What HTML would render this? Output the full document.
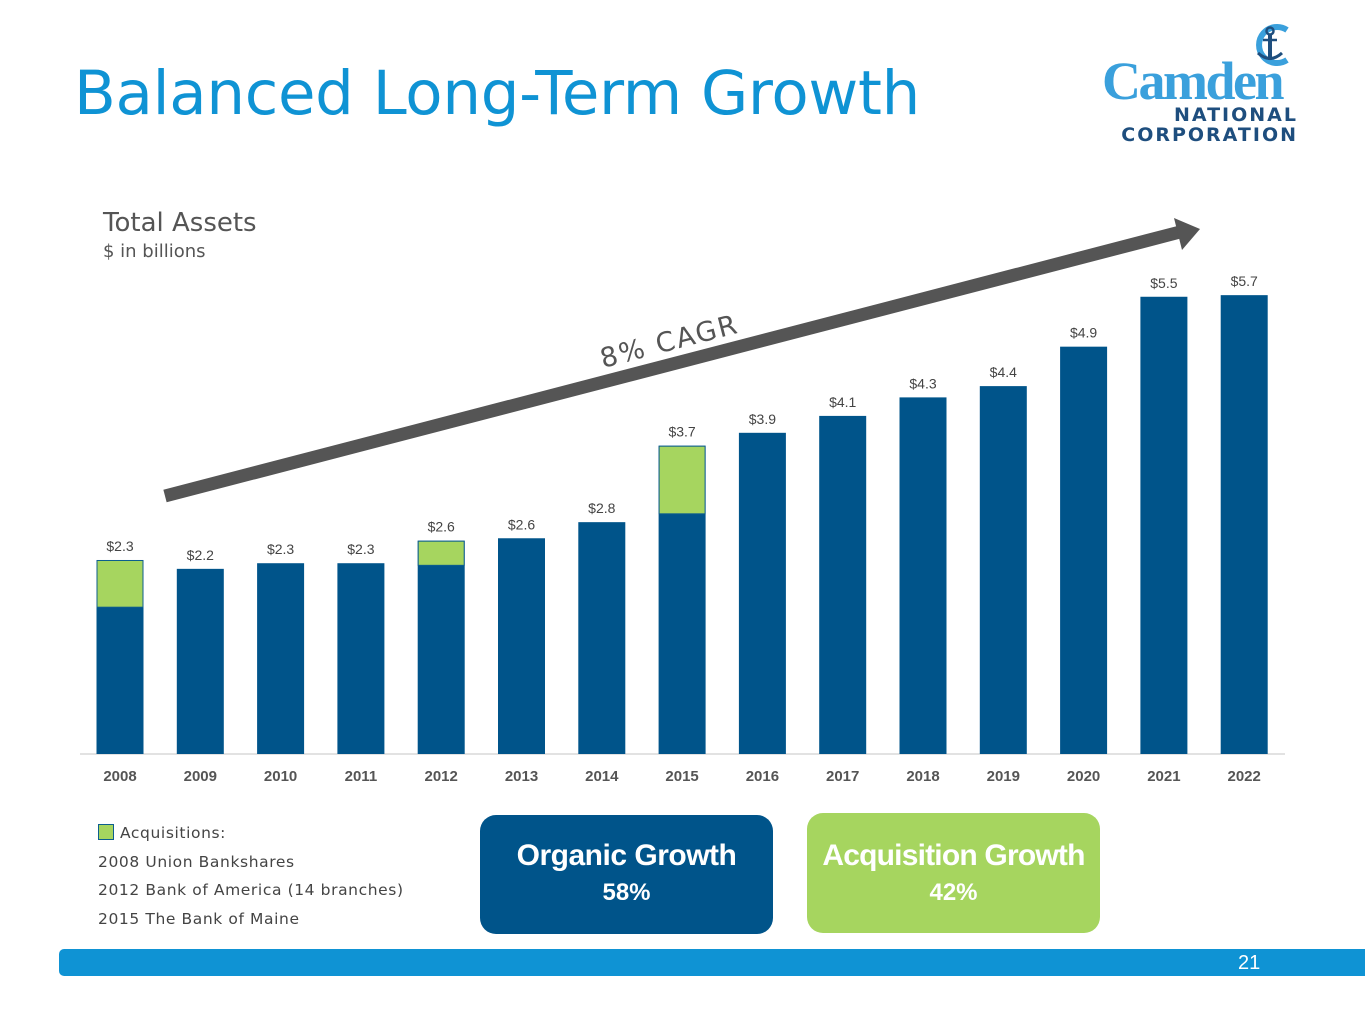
<!DOCTYPE html>
<html><head><meta charset="utf-8"><style>
body{margin:0;width:1365px;height:1024px;background:#fff;position:relative;overflow:hidden;font-family:"Liberation Sans","DejaVu Sans",sans-serif}
.abs{position:absolute}
</style></head><body>
<div class="abs" style="left:74px;top:58px;font-family:'DejaVu Sans',sans-serif;font-size:61px;color:#0f93d4;letter-spacing:-0.3px">Balanced Long-Term Growth</div>
<div class="abs" style="left:1100px;top:20px;width:200px;height:125px">
<svg width="200" height="125">
<path d="M187 10 A18 18 0 1 0 187 40" fill="none" stroke="#3aa0dc" stroke-width="6"/>
<circle cx="170" cy="11" r="3.5" fill="none" stroke="#1e4e7e" stroke-width="2.5"/>
<line x1="170" y1="15" x2="170" y2="40" stroke="#1e4e7e" stroke-width="4"/>
<line x1="163" y1="20" x2="177" y2="20" stroke="#1e4e7e" stroke-width="2.5"/>
<path d="M158 33 Q170 44 182 33" fill="none" stroke="#1e4e7e" stroke-width="3"/>
</svg>
<div class="abs" style="left:2px;top:30px;font-family:'Liberation Serif',serif;font-weight:bold;font-size:54px;color:#3aa0dc;letter-spacing:-2.5px">Camden</div>
<div class="abs" style="right:2px;top:85px;font-size:19px;font-weight:bold;color:#1e4e7e;letter-spacing:2px;font-family:'DejaVu Sans',sans-serif;text-align:right;line-height:20px">NATIONAL<br>CORPORATION</div>
</div>
<div class="abs" style="left:103px;top:208px;font-family:'DejaVu Sans',sans-serif;font-size:26px;color:#555">Total Assets</div>
<div class="abs" style="left:103px;top:241px;font-family:'DejaVu Sans',sans-serif;font-size:18px;color:#555">$ in billions</div>
<svg id="chart" class="abs" style="left:0;top:0" width="1365" height="800"></svg>
<div class="abs" style="left:98px;top:819px;font-family:'DejaVu Sans',sans-serif;font-size:15.5px;color:#444;line-height:28.7px;letter-spacing:0.6px">
<div><span style="display:inline-block;width:14px;height:14px;background:#a6d55f;border:1px solid #0d5e8e;vertical-align:-2px;margin-right:6px"></span>Acquisitions:</div>
<div>2008 Union Bankshares</div><div>2012 Bank of America (14 branches)</div><div>2015 The Bank of Maine</div></div>
<div class="abs" style="left:480px;top:815px;width:293px;height:119px;background:#00548a;border-radius:16px;color:#fff;text-align:center;font-weight:bold">
<div style="font-size:30px;margin-top:24px;letter-spacing:-0.5px">Organic Growth</div><div style="font-size:24px;margin-top:6px">58%</div></div>
<div class="abs" style="left:807px;top:813px;width:293px;height:120px;background:#a6d55f;border-radius:16px;color:#fff;text-align:center;font-weight:bold">
<div style="font-size:30px;margin-top:26px;letter-spacing:-0.8px">Acquisition Growth</div><div style="font-size:24px;margin-top:6px">42%</div></div>
<div class="abs" style="left:59px;top:949px;width:1306px;height:27px;background:#0f93d4;border-radius:5px 0 0 5px"></div>
<div class="abs" style="left:1238px;top:952px;font-size:20px;color:#fff">21</div>
<script>
const years=["2008","2009","2010","2011","2012","2013","2014","2015","2016","2017","2018","2019","2020","2021","2022"];
const totals=[2.41,2.30,2.37,2.37,2.65,2.68,2.88,3.83,3.99,4.20,4.43,4.57,5.06,5.68,5.70];
const acquisitions=[0.58,0,0,0,0.30,0,0,0.84,0,0,0,0,0,0,0];
const labels=["$2.3","$2.2","$2.3","$2.3","$2.6","$2.6","$2.8","$3.7","$3.9","$4.1","$4.3","$4.4","$4.9","$5.5","$5.7"];
const svg=document.getElementById('chart');const NS='http://www.w3.org/2000/svg';
const base=754,k=80.5,x0=120,step=80.3,bw=47;
const X=i=>x0+i*step, Y=v=>base-v*k;
function mk(t,a){const e=document.createElementNS(NS,t);for(const n in a)e.setAttribute(n,a[n]);svg.appendChild(e);return e;}
const ax=mk('line',{x1:80,y1:base,x2:1285,y2:base,stroke:'#d9d9d9','stroke-width':1.5});


years.forEach((y,i)=>{
 const r=mk('rect',{x:X(i)-bw/2,y:Y(totals[i]),width:bw,height:base-Y(totals[i]),fill:'#00548a'});
 
 
 if(acquisitions[i]>0){
  const g=mk('rect',{x:X(i)-bw/2+0.5,y:Y(totals[i])+0.5,width:bw-1,height:acquisitions[i]*k,fill:'#a6d55f',stroke:'#0d5e8e','stroke-width':1});
  
  
 }
 const t=mk('text',{x:X(i),y:Y(totals[i])-9,'text-anchor':'middle','font-size':14,fill:'#444','font-family':'Liberation Sans, sans-serif'});t.textContent=labels[i];
 
 
 const l=mk('text',{x:X(i),y:781,'text-anchor':'middle','font-size':15,'font-weight':'bold',fill:'#555','font-family':'Liberation Sans, sans-serif'});l.textContent=y;
 
 
});
const ar=mk('line',{x1:165,y1:496,x2:1180,y2:232,stroke:'#555','stroke-width':13});


const ah=mk('polygon',{points:'1200,229 1174,218 1182,250',fill:'#555'});


const ct=mk('text',{x:0,y:0,'font-size':27,fill:'#555','font-family':'DejaVu Sans, sans-serif','letter-spacing':2,transform:'translate(603,368) rotate(-14.6)'});ct.textContent='8% CAGR';


</script>
</body></html>
